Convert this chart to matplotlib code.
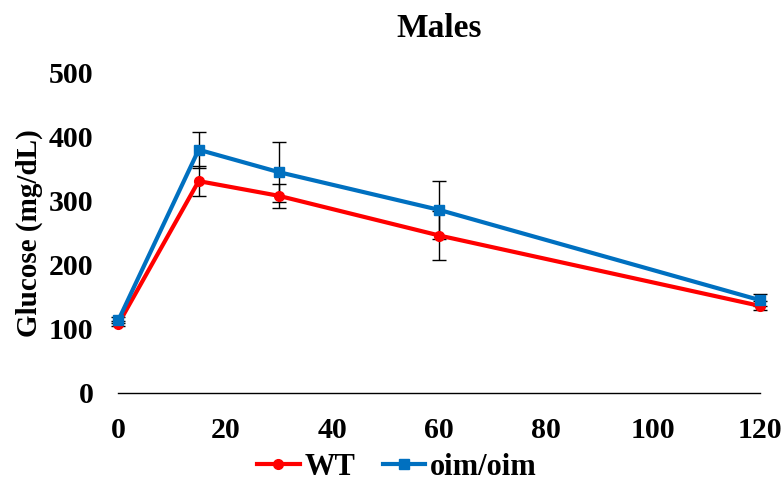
import matplotlib.pyplot as plt

plt.rcParams['font.family'] = ['Liberation Serif', 'DejaVu Serif']
plt.rcParams['font.weight'] = 'bold'
plt.rcParams['axes.titleweight'] = 'bold'
plt.rcParams['axes.labelweight'] = 'bold'

minutes = [0, 15, 30, 60, 120]
wt = [108, 331, 308, 246, 136]
wt_err = [4, 23, 19, 39, 7]
oim = [114, 380, 345, 286, 145]
oim_err = [4, 28, 47, 45, 9]

fig = plt.figure(figsize=(7.83, 4.96), dpi=100)
ax = fig.add_axes([0.1513, 0.2077, 0.8193, 0.6453])

ax.errorbar(minutes, wt, yerr=wt_err, fmt='none', ecolor='black', elinewidth=1, capsize=5, capthick=1, zorder=1)
ax.errorbar(minutes, oim, yerr=oim_err, fmt='none', ecolor='black', elinewidth=1, capsize=5, capthick=1, zorder=1)
ax.plot(minutes, wt, color='#FF0000', lw=3, marker='o', ms=7, label='WT', zorder=3)
ax.plot(minutes, oim, color='#0070C0', lw=3, marker='s', ms=7, label='oim/oim', zorder=3)

ax.set_xlim(0, 120)
ax.set_ylim(0, 500)
ax.set_xticks([0, 20, 40, 60, 80, 100, 120])
ax.set_yticks([0, 100, 200, 300, 400, 500])
ax.tick_params(length=0, labelsize=21.5, pad=18)
ax.tick_params(axis='x', pad=17)
for s in ['top', 'right', 'left']:
    ax.spines[s].set_visible(False)
ax.spines['bottom'].set_color('black')
ax.spines['bottom'].set_linewidth(1)
for ln in ax.lines:
    ln.set_clip_on(False)

ax.set_ylabel('Glucose (mg/dL)', fontsize=21, labelpad=4)
ax.set_title('Males', fontsize=24, pad=26)

ax.legend(loc='center', bbox_to_anchor=(0.434, -0.232), ncol=2, frameon=False,
          fontsize=22, handlelength=1.4, handletextpad=0.15, columnspacing=0.9)

fig.savefig('out.png', dpi=100)
